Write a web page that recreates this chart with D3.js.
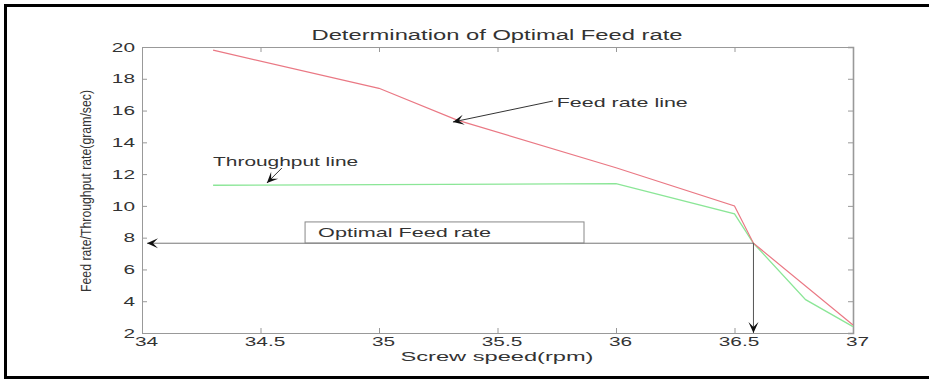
<!DOCTYPE html>
<meta charset='utf-8'>
<html>
<head>
    <title>Determination of Optimal Feed rate</title>
    <script src='https://d3js.org/d3.v7.min.js'></script>
    <style>
        html, body { margin: 0; padding: 0; background: white; }
        svg { display: block; font-family: 'Liberation Sans', Arial, sans-serif; }
        .tick line { stroke: #999; }
        .domain { stroke: #999; }
    </style>
</head>
<body>
<script>
    // Feed rate line (red)
    const feedSpeed = [34.3, 35.0, 35.33, 36.0, 36.5, 36.58, 37.0];
    const feedRate = [19.8, 17.4, 15.4, 12.4, 10.0, 7.65, 2.5];

    // Throughput line (green)
    const throughputSpeed = [34.3, 36.0, 36.5, 36.58, 36.8, 37.0];
    const throughputRate = [11.3, 11.4, 9.5, 7.65, 4.1, 2.4];

    // Optimal point
    const optimalSpeed = 36.58;
    const optimalRate = 7.65;

    // Tick values
    const xTicks = [34, 34.5, 35, 35.5, 36, 36.5, 37];
    const yTicks = [2, 4, 6, 8, 10, 12, 14, 16, 18, 20];

    const width = 929;
    const height = 379;
    const stretch = 1.6; // the picture is wider than its text

    const svg = d3.select('body')
        .append('svg')
        .attr('width', width)
        .attr('height', height);

    // outer frame (no right edge)
    svg.append('path')
        .attr('d', 'M929,5.5H5.5V377.5H929')
        .attr('fill', 'none')
        .attr('stroke', 'black')
        .attr('stroke-width', 3);

    const x = d3.scaleLinear().domain([34, 37]).range([142, 853]);
    const y = d3.scaleLinear().domain([2, 20]).range([333, 47]);

    // widen text to match the stretched picture
    function widen(sel, factor) {
        sel.each(function () {
            const w = this.getComputedTextLength();
            d3.select(this)
                .attr('textLength', w * factor)
                .attr('lengthAdjust', 'spacingAndGlyphs');
        });
    }

    // axes, MATLAB style box with inward ticks
    const gx = svg.append('g')
        .attr('transform', 'translate(0,' + y(2) + ')')
        .call(d3.axisTop(x).tickValues(xTicks).tickSize(5).tickFormat(d3.format('')));
    gx.selectAll('text')
        .attr('y', 13)
        .attr('dx', 4)
        .attr('dy', 0)
        .attr('fill', '#333')
        .style('font-size', '13px');

    svg.append('g')
        .attr('transform', 'translate(0,' + y(20) + ')')
        .call(d3.axisBottom(x).tickValues(xTicks).tickSize(5).tickFormat(''));

    const gy = svg.append('g')
        .attr('transform', 'translate(' + x(34) + ',0)')
        .call(d3.axisRight(y).tickValues(yTicks).tickSize(5));
    gy.selectAll('text')
        .attr('x', -7)
        .attr('text-anchor', 'end')
        .attr('fill', '#333')
        .style('font-size', '13px');

    const gr = svg.append('g')
        .attr('transform', 'translate(' + x(37) + ',0)')
        .call(d3.axisLeft(y).tickValues(yTicks).tickSize(5).tickFormat(''));
    gr.select('.domain').attr('stroke', '#444').attr('stroke-width', 1.6);
    gr.selectAll('.tick line').attr('stroke', '#555');

    gx.selectAll('.tick text').call(widen, stretch);
    gy.selectAll('.tick text').call(widen, stretch);

    // title and labels
    svg.append('text')
        .attr('x', 497).attr('y', 40)
        .attr('text-anchor', 'middle')
        .attr('fill', '#333')
        .style('font-size', '14px')
        .attr('textLength', 371).attr('lengthAdjust', 'spacingAndGlyphs')
        .text('Determination of Optimal Feed rate');

    svg.append('text')
        .attr('x', 497).attr('y', 361)
        .attr('text-anchor', 'middle')
        .attr('fill', '#333')
        .style('font-size', '13px')
        .attr('textLength', 193).attr('lengthAdjust', 'spacingAndGlyphs')
        .text('Screw speed(rpm)');

    svg.append('text')
        .attr('transform', 'translate(91,191) rotate(-90)')
        .attr('text-anchor', 'middle')
        .attr('fill', '#333')
        .style('font-size', '14px')
        .attr('textLength', 202).attr('lengthAdjust', 'spacingAndGlyphs')
        .text('Feed rate/Throughput rate(gram/sec)');

    // lines
    const line = d3.line().x(d => x(d[0])).y(d => y(d[1]));

    svg.append('path')
        .datum(d3.zip(throughputSpeed, throughputRate))
        .attr('d', line)
        .attr('fill', 'none')
        .attr('stroke', '#8be697')
        .attr('stroke-width', 1.3);

    svg.append('path')
        .datum(d3.zip(feedSpeed, feedRate))
        .attr('d', line)
        .attr('fill', 'none')
        .attr('stroke', '#ea7884')
        .attr('stroke-width', 1.2);

    // arrow head (notched) pointing at x2,y2
    function arrowHead(x1, y1, x2, y2) {
        const a = Math.atan2(y2 - y1, x2 - x1);
        const L = 11, W = 5, N = 6;
        const c = Math.cos(a), s = Math.sin(a);
        const p = (u, v) => [x2 - u * c - v * s, y2 - u * s + v * c];
        const pts = [p(0, 0), p(L, W), p(N, 0), p(L, -W)];
        return 'M' + pts.map(q => q.join(',')).join('L') + 'Z';
    }

    function arrow(x1, y1, x2, y2) {
        svg.append('line')
            .attr('x1', x1).attr('y1', y1).attr('x2', x2).attr('y2', y2)
            .attr('stroke', '#333').attr('stroke-width', 1);
        svg.append('path')
            .attr('d', arrowHead(x1, y1, x2, y2))
            .attr('fill', '#111');
    }

    // optimal feed rate guides
    svg.append('line')
        .attr('x1', x(optimalSpeed)).attr('y1', y(optimalRate))
        .attr('x2', x(34) + 5).attr('y2', y(optimalRate))
        .attr('stroke', '#777').attr('stroke-width', 1);
    svg.append('path')
        .attr('d', arrowHead(x(34) + 20, y(optimalRate), x(34) + 5, y(optimalRate)))
        .attr('fill', '#111');
    svg.append('line')
        .attr('x1', x(optimalSpeed)).attr('y1', y(optimalRate))
        .attr('x2', x(optimalSpeed)).attr('y2', y(2))
        .attr('stroke', '#555').attr('stroke-width', 1);
    svg.append('path')
        .attr('d', arrowHead(x(optimalSpeed), y(optimalRate), x(optimalSpeed), y(2)))
        .attr('fill', '#111');

    // text box
    svg.append('rect')
        .attr('x', x(34.688)).attr('y', y(8.99))
        .attr('width', x(35.865) - x(34.688))
        .attr('height', y(7.66) - y(8.99))
        .attr('fill', 'none')
        .attr('stroke', '#888');
    svg.append('text')
        .attr('x', x(34.743)).attr('y', y(8.04))
        .attr('fill', '#333')
        .style('font-size', '13px')
        .attr('textLength', 173).attr('lengthAdjust', 'spacingAndGlyphs')
        .text('Optimal Feed rate');

    // annotations
    svg.append('text')
        .attr('x', x(34.3)).attr('y', y(12.51))
        .attr('fill', '#333')
        .style('font-size', '13px')
        .attr('textLength', 145).attr('lengthAdjust', 'spacingAndGlyphs')
        .text('Throughput line');
    arrow(x(34.59), y(12.38), x(34.527), y(11.44));

    svg.append('text')
        .attr('x', x(35.75)).attr('y', y(16.22))
        .attr('fill', '#333')
        .style('font-size', '13px')
        .attr('textLength', 131).attr('lengthAdjust', 'spacingAndGlyphs')
        .text('Feed rate line');
    arrow(x(35.734), y(16.60), x(35.312), y(15.28));
</script>
</body>
</html>
